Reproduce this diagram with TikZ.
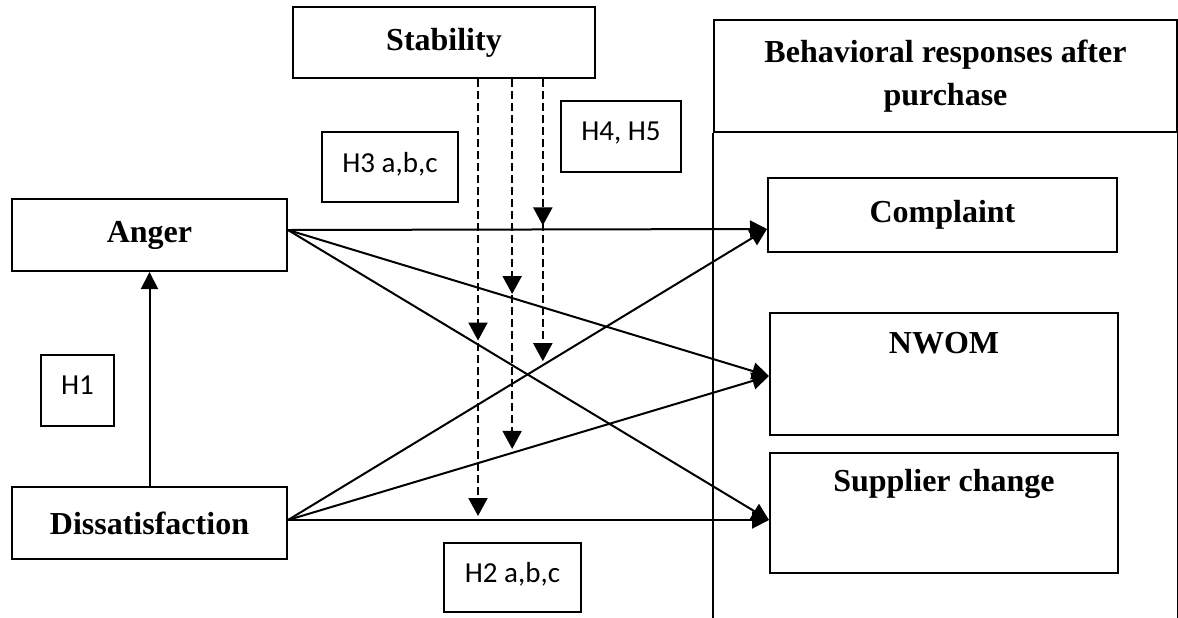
\documentclass[tikz,border=0pt]{standalone}
\usepackage{fontspec}
\setmainfont{Liberation Serif}
\newfontfamily\hypfont{Carlito}
\usetikzlibrary{arrows.meta,positioning}

\begin{document}
\begin{tikzpicture}[x=0.5pt,y=-0.5pt,
  ttl/.style={font=\fontsize{16}{21.5}\selectfont\bfseries},
  var/.style={draw,line width=1pt,inner sep=0pt,ttl},
  hyp/.style={draw,line width=0.8pt,inner sep=0pt,text depth=5pt,font=\fontsize{14.5}{17}\selectfont\hypfont},
  arr/.style={line width=1pt,-{Triangle[length=8.5pt,width=8.5pt]}},
  dsh/.style={line width=1pt,dash pattern=on 4pt off 2pt,-{Triangle[length=9pt,width=9.5pt]},shorten >=2pt}]
 \useasboundingbox (0,0) rectangle (1178,617);

 \node[var,minimum width=151pt,minimum height=35.5pt] (stab) at (444,42.5) {Stability};
 \node[var,minimum width=231.5pt,minimum height=56pt,align=center] (head) at (945.5,76)
   {Behavioral responses after\\purchase};
 \draw[line width=1pt] (head.south west) -- (head.south west |- 0,630)
   (head.south east) -- (head.south east |- 0,630);

 \node[var,minimum width=174.5pt,minimum height=37pt] (compl) at (942.5,215) {Complaint};
 \node[var,minimum width=174pt,minimum height=61pt,
   label={[ttl,anchor=center,yshift=-15.5pt]north:NWOM}] (nwom) at (944,374) {};
 \node[var,minimum width=174pt,minimum height=60pt,
   label={[ttl,anchor=center,yshift=-16pt]north:Supplier change}] (supp) at (944,513) {};

 \node[var,minimum width=137.5pt,minimum height=36pt] (anger) at (149.5,235) {Anger};
 \node[var,minimum width=137.5pt,minimum height=36pt] (dis) at (149.5,523) {Dissatisfaction};

 \node[hyp,minimum width=36.5pt,minimum height=35.5pt] (h1) at (77.5,390.5) {H1};
 \node[hyp,minimum width=68pt,minimum height=35pt] (h3) at (390,167) {H3 a,b,c};
 \node[hyp,minimum width=60pt,minimum height=35.5pt] (h4) at (621,136.5) {H4, H5};
 \node[hyp,minimum width=68.5pt,minimum height=34.5pt] (h2) at (512.5,577.5) {H2 a,b,c};

 \coordinate (aout) at ([yshift=2.5pt]anger.east);
 \coordinate (dout) at ([yshift=1.5pt]dis.east);
 \coordinate (cin) at ([yshift=-7pt]compl.west);
 \coordinate (nin) at ([yshift=-1pt]nwom.west);
 \coordinate (sin) at ([yshift=-3.5pt]supp.west);

 \draw[arr] (dis) -- (anger);
 \draw[arr] (aout) -- coordinate[pos=.532] (ac) (cin);
 \draw[arr] (aout) -- coordinate[pos=.466] (an) (nin);
 \draw[arr] (aout) -- coordinate[pos=.395] (as) (sin);
 \draw[arr] (dout) -- coordinate[pos=.532] (dc) (cin);
 \draw[arr] (dout) -- coordinate[pos=.466] (dn) (nin);
 \draw[arr] (dout) -- coordinate[pos=.395] (ds) (sin);

 \draw[dsh] (stab.south -| ac) -- (ac);
 \draw[dsh] (stab.south -| an) -- (an);
 \draw[dsh] (stab.south -| as) -- (as);
 \draw[dsh] (stab.south -| dc) -- (dc);
 \draw[dsh] (stab.south -| dn) -- (dn);
 \draw[dsh] (stab.south -| ds) -- (ds);
\end{tikzpicture}
\end{document}
